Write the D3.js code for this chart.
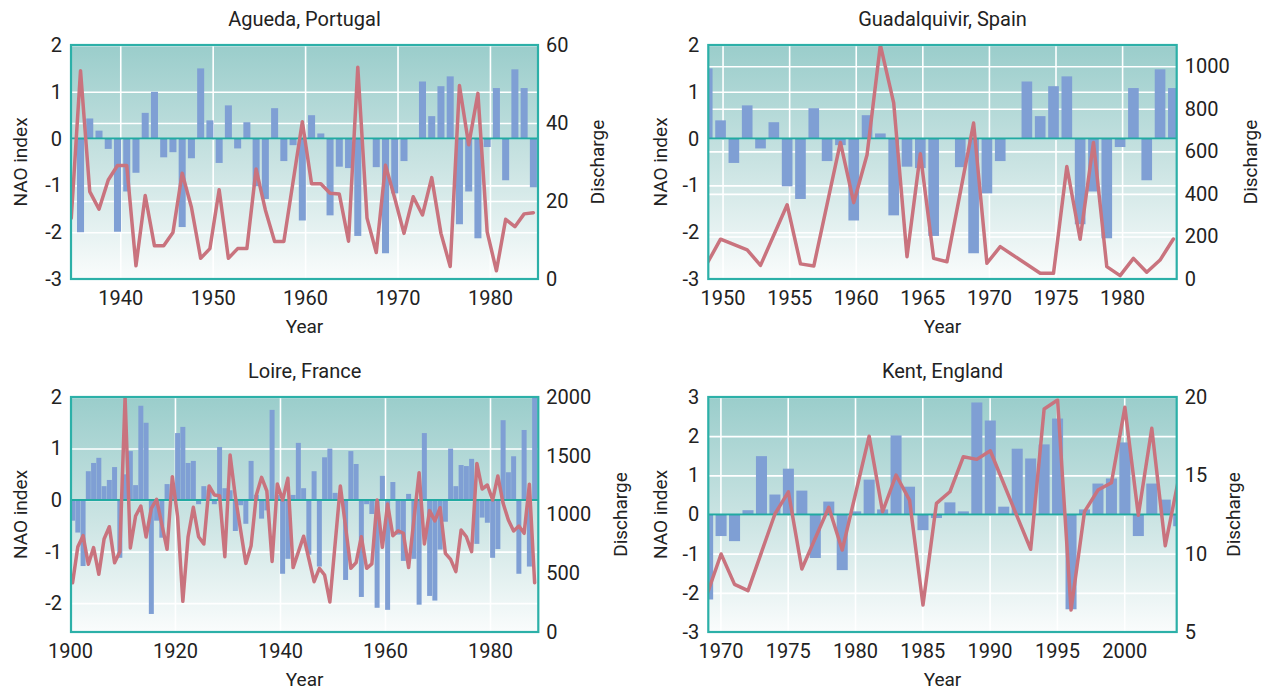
<!DOCTYPE html>
<html>
<head>
<meta charset="utf-8">
<script src="https://cdn.jsdelivr.net/npm/d3@7"></script>
<style>
    body { margin: 0; background: #fff; }
    svg { display: block; font-family: Roboto, "Open Sans", sans-serif; }
</style>
</head>
<body>
<svg id="mainsvg" width="1265" height="690"></svg>
<script>
// winter NAO index used for both Iberian rivers, one value per year from 1935 (null = no bar)
let iberiaNaoStart = 1935;
let iberiaNao = [-2.0, 0.43, 0.17, -0.22, -1.99, -1.13, -0.73, 0.55, 1.0, -0.40,
    -0.29, -1.89, -0.42, 1.50, 0.39, -0.52, 0.71, -0.21, 0.35, -1.02,
    -1.29, 0.65, -0.48, -0.14, -1.75, 0.50, 0.11, -1.64, -0.60, -0.63,
    -2.08, null, -0.61, -2.45, -1.17, -0.48, null, 1.22, 0.48, 1.12,
    1.33, -1.83, -1.13, -2.13, -0.18, 1.08, -0.89, 1.48, 1.08, -1.04];

let aguedaYears = [1934, 1935, 1936, 1937, 1938, 1939, 1940, 1941, 1942, 1943, 1944, 1945, 1946, 1947, 1948, 1949,
    1950, 1951, 1952, 1953, 1954, 1955, 1956, 1957, 1959, 1960, 1961, 1962, 1963, 1964, 1965, 1966, 1967,
    1968, 1969, 1970, 1971, 1972, 1973, 1974, 1975, 1976, 1977, 1978, 1979, 1980, 1981, 1982, 1983, 1984];
let aguedaFlow = [15.6, 53.4, 22.4, 17.9, 25.4, 29.1, 29.1, 3.4, 21.4, 8.5, 8.5, 11.9, 27.1, 18.4, 5.3, 7.8,
    22.9, 5.3, 7.8, 7.8, 28.2, 17.7, 9.6, 9.6, 40.3, 24.4, 24.4, 22.0, 21.8, 9.7, 54.3, 15.6, 6.8,
    29.2, 20.7, 11.7, 21.1, 16.4, 26.0, 11.7, 3.2, 49.6, 34.4, 47.6, 12.1, 2.1, 15.3, 13.4, 16.7, 17.0];

let guadYears = [1948, 1949, 1951, 1952, 1954, 1955, 1956, 1958, 1959, 1960, 1961, 1962, 1963, 1964, 1965,
    1966, 1968, 1969, 1970, 1973, 1974, 1975, 1976, 1977, 1978, 1979, 1980, 1981, 1982, 1983];
let guadFlow = [74, 187, 137, 64, 349, 71, 61, 642, 359, 584, 1100, 828, 105, 589, 97,
    81, 733, 74, 152, 27, 27, 529, 187, 642, 58, 16, 97, 32, 89, 188];

let loireNaoStart = 1900;
let loireNao = [-0.40, -0.63, -1.28, 0.56, 0.72, 0.82, 0.27, 0.39, 0.64, -1.12,
    0.50, 0.95, 0.29, 1.83, 1.50, -2.21, -0.40, -0.73, 0.31, 0.30,
    1.30, 1.42, 0.72, 0.76, -0.08, 0.27, 0.20, -0.08, 1.03, 0.23,
    0.19, -0.60, -0.10, -0.46, 0.76, 0.10, -0.36, -0.20, 1.75, 0.10,
    -1.43, -1.14, 0.10, 1.11, 0.23, -1.06, 0.56, -1.29, 0.83, 1.00,
    0.14, 0.10, -1.55, 0.95, 0.70, -1.88, -0.08, -0.27, -2.09, 0.47,
    -2.13, 0.35, -0.67, -1.18, 0.12, -1.14, -2.03, 1.30, -1.86, -1.95,
    -0.96, -0.42, 1.00, 0.27, 0.68, 0.66, 0.80, -0.85, -0.34, -0.44,
    -1.12, -0.95, 1.55, 0.54, 0.85, -1.43, 1.36, -1.29, 2.05];

let loireYears = [1900, 1901, 1902, 1903, 1904, 1905, 1906, 1907, 1908, 1909, 1910, 1911, 1912, 1913, 1914, 1915, 1916,
    1918, 1919, 1920, 1921, 1922, 1923, 1924, 1925, 1926, 1927, 1928, 1929, 1930, 1931,
    1933, 1934, 1935, 1936, 1937, 1938, 1939, 1940, 1941, 1942,
    1944, 1946, 1947, 1948, 1949, 1951,
    1953, 1954, 1955, 1956, 1957, 1958, 1959, 1960, 1961, 1962, 1963, 1964,
    1966, 1967, 1968, 1969, 1970, 1971, 1972, 1973, 1974, 1975, 1976, 1977, 1978, 1979, 1980, 1981,
    1982, 1983, 1984, 1985, 1986, 1987, 1988];
let loireFlow = [420, 726, 820, 576, 718, 491, 791, 896, 590, 684, 2000, 715, 987, 1072, 808, 1052, 1129,
    704, 1322, 982, 261, 811, 1061, 811, 749, 1243, 1166, 1160, 641, 1506, 1152,
    584, 735, 1166, 1316, 1200, 601, 1260, 1123, 1308, 548,
    815, 428, 542, 485, 255, 1243,
    542, 590, 811, 542, 579, 1123, 721, 1089, 820, 862, 840, 548,
    1356, 749, 1033, 945, 1058, 670, 618, 514, 868, 811, 684, 1435, 1217, 1251, 1123, 1328,
    1095, 953, 860, 902, 840, 1257, 420];

let kentNaoStart = 1969;
let kentNao = [-2.17, -0.55, -0.68, 0.11, 1.49, 0.51, 1.17, 0.61, -1.11, 0.33,
    -1.42, 0.08, 0.89, 0.13, 2.02, 0.71, -0.40, -0.09, 0.31, 0.08,
    2.86, 2.40, 0.20, 1.68, 1.43, 1.79, 2.45, -2.42, 0.13, 0.79,
    0.92, 1.84, -0.55, 0.79, 0.38, -0.30];

let kentYears = [1969, 1970, 1971, 1972, 1974, 1975, 1976, 1978, 1979, 1981, 1982, 1983, 1984, 1985, 1986, 1987,
    1988, 1989, 1990, 1992, 1993, 1994, 1995, 1996, 1997, 1998, 1999, 2000, 2001, 2002, 2003, 2004];
let kentFlow = [7.51, 9.98, 8.04, 7.64, 12.53, 13.95, 9.02, 12.96, 10.23, 17.5, 12.68, 15.02, 13.42, 6.72, 13.21, 13.95,
    16.19, 16.02, 16.57, 12.36, 10.28, 19.23, 19.81, 6.4, 12.68, 14.06, 14.53, 19.34, 12.45, 18.0, 10.51, 14.81];

let titles = ["Agueda, Portugal", "Guadalquivir, Spain", "Loire, France", "Kent, England"];
let naoTicks = [[-3, -2, -1, 0, 1, 2], [-3, -2, -1, 0, 1, 2], [-2, -1, 0, 1, 2], [-3, -2, -1, 0, 1, 2, 3]];
let flowTicks = [[0, 20, 40, 60], [0, 200, 400, 600, 800, 1000], [0, 500, 1000, 1500, 2000], [5, 10, 15, 20]];
let yearTicks = [[1940, 1950, 1960, 1970, 1980], [1950, 1955, 1960, 1965, 1970, 1975, 1980],
    [1900, 1920, 1940, 1960, 1980], [1970, 1975, 1980, 1985, 1990, 1995, 2000]];

function toBars(start, values) {
    return values.map((v, i) => ({year: start + i, v: v})).filter(d => d.v !== null);
}
function toPoints(years, values) {
    return years.map((y, i) => ({year: y, v: values[i]}));
}

let panels = [
    {left: 71, right: 538, top: 45, bottom: 279, xDom: [1934.67, 1985.2], naoDom: [-3, 2], flowDom: [0, 60],
        off: 0.7, barFrac: 0.76, rightGrid: true, naoX: 20, flowX: 597,
        bars: toBars(iberiaNaoStart, iberiaNao), flow: toPoints(aguedaYears, aguedaFlow)},
    {left: 708.3, right: 1176.7, top: 45, bottom: 279, xDom: [1948.93, 1984.1], naoDom: [-3, 2], flowDom: [0, 1100],
        off: 0.85, barFrac: 0.8, rightGrid: true, naoX: 660, flowX: 1250,
        bars: toBars(iberiaNaoStart, iberiaNao), flow: toPoints(guadYears, guadFlow)},
    {left: 71, right: 538.3, top: 397, bottom: 632, xDom: [1900.2, 1989.2], naoDom: [-2.56, 2], flowDom: [0, 2000],
        off: 0.5, barFrac: 0.95, rightGrid: false, naoX: 20, flowX: 620,
        bars: toBars(loireNaoStart, loireNao), flow: toPoints(loireYears, loireFlow)},
    {left: 708.3, right: 1176.7, top: 397, bottom: 632, xDom: [1969.1, 2003.9], naoDom: [-3, 3], flowDom: [5, 20],
        off: 0.05, barFrac: 0.82, rightGrid: false, naoX: 660, flowX: 1233,
        bars: toBars(kentNaoStart, kentNao), flow: toPoints(kentYears, kentFlow)}
];

let svg = d3.select("#mainsvg");
let defs = svg.append("defs");
let grad = defs.append("linearGradient").attr("id", "bg")
    .attr("x1", 0).attr("y1", 0).attr("x2", 0).attr("y2", 1);
grad.append("stop").attr("offset", 0).attr("stop-color", "#9acdcb");
grad.append("stop").attr("offset", 0.5).attr("stop-color", "#c9e3e2");
grad.append("stop").attr("offset", 1).attr("stop-color", "#fafcfc");

function drawPanel(p, idx) {
    let g = svg.append("g");
    let w = p.right - p.left, h = p.bottom - p.top;
    let x = d3.scaleLinear().domain(p.xDom).range([p.left, p.right]);
    let yl = d3.scaleLinear().domain(p.naoDom).range([p.bottom, p.top]);
    let yr = d3.scaleLinear().domain(p.flowDom).range([p.bottom, p.top]);

    defs.append("clipPath").attr("id", "clip" + idx)
        .append("rect").attr("x", p.left).attr("y", p.top).attr("width", w).attr("height", h);

    g.append("rect").attr("x", p.left).attr("y", p.top).attr("width", w).attr("height", h)
        .attr("fill", "url(#bg)");

    // white grid from the axes
    let grid = g.append("g").attr("class", "grid");
    grid.append("g").attr("transform", `translate(0,${p.bottom})`)
        .call(d3.axisBottom(x).tickValues(yearTicks[idx]).tickSize(-h).tickFormat(""));
    grid.append("g").attr("transform", `translate(${p.left},0)`)
        .call(d3.axisLeft(yl).tickValues(naoTicks[idx]).tickSize(-w).tickFormat(""));
    if (p.rightGrid) {
        grid.append("g").attr("transform", `translate(${p.right},0)`)
            .call(d3.axisRight(yr).tickValues(flowTicks[idx]).tickSize(-w).tickFormat(""));
    }
    grid.selectAll(".domain").remove();
    grid.selectAll("line").attr("stroke", "#ffffff").attr("stroke-width", 1.6);

    let plot = g.append("g").attr("clip-path", `url(#clip${idx})`);
    let bw = p.barFrac * (x(1) - x(0));
    plot.selectAll(".bar").data(p.bars).enter().append("rect")
        .attr("class", "bar")
        .attr("x", d => x(d.year + p.off) - bw / 2)
        .attr("width", bw)
        .attr("y", d => Math.min(yl(d.v), yl(0)))
        .attr("height", d => Math.abs(yl(d.v) - yl(0)))
        .attr("fill", "#7f9fd4");

    plot.append("line").attr("x1", p.left).attr("x2", p.right)
        .attr("y1", yl(0)).attr("y2", yl(0))
        .attr("stroke", "#22aaa2").attr("stroke-width", 2);

    let line = d3.line().x(d => x(d.year + p.off)).y(d => yr(d.v));
    plot.append("path").datum(p.flow).attr("d", line)
        .attr("fill", "none").attr("stroke", "#c9737e").attr("stroke-width", 3.5)
        .attr("stroke-linejoin", "round").attr("stroke-linecap", "round");

    g.append("rect").attr("x", p.left).attr("y", p.top).attr("width", w).attr("height", h)
        .attr("fill", "none").attr("stroke", "#2cb0a8").attr("stroke-width", 2.2);

    // tick labels
    let ax = g.append("g").attr("class", "axes");
    ax.append("g").attr("transform", `translate(0,${p.bottom})`)
        .call(d3.axisBottom(x).tickValues(yearTicks[idx]).tickSize(0).tickPadding(12).tickFormat(d => String(d)));
    ax.append("g").attr("transform", `translate(${p.left},0)`)
        .call(d3.axisLeft(yl).tickValues(naoTicks[idx]).tickSize(0).tickPadding(9).tickFormat(d => String(d)));
    ax.append("g").attr("transform", `translate(${p.right},0)`)
        .call(d3.axisRight(yr).tickValues(flowTicks[idx]).tickSize(0).tickPadding(8).tickFormat(d => String(d)));
    ax.selectAll(".domain").remove();
    ax.selectAll("text").attr("font-size", 20).attr("fill", "#222").attr("font-family", "Roboto, sans-serif");

    let cx = (p.left + p.right) / 2, cy = (p.top + p.bottom) / 2;
    g.append("text").attr("x", cx).attr("y", p.top - 19)
        .attr("text-anchor", "middle").attr("font-size", 20).attr("fill", "#222")
        .text(titles[idx]);
    g.append("text").attr("x", cx).attr("y", p.bottom + 54)
        .attr("text-anchor", "middle").attr("font-size", 19).attr("fill", "#222")
        .text("Year");
    g.append("text").attr("transform", `translate(${p.naoX},${cy}) rotate(-90)`)
        .attr("dy", "0.35em").attr("text-anchor", "middle").attr("font-size", 19).attr("fill", "#222")
        .text("NAO index");
    g.append("text").attr("transform", `translate(${p.flowX},${cy}) rotate(-90)`)
        .attr("dy", "0.35em").attr("text-anchor", "middle").attr("font-size", 19).attr("fill", "#222")
        .text("Discharge");
}

panels.forEach((p, i) => drawPanel(p, i));
</script>
</body>
</html>
